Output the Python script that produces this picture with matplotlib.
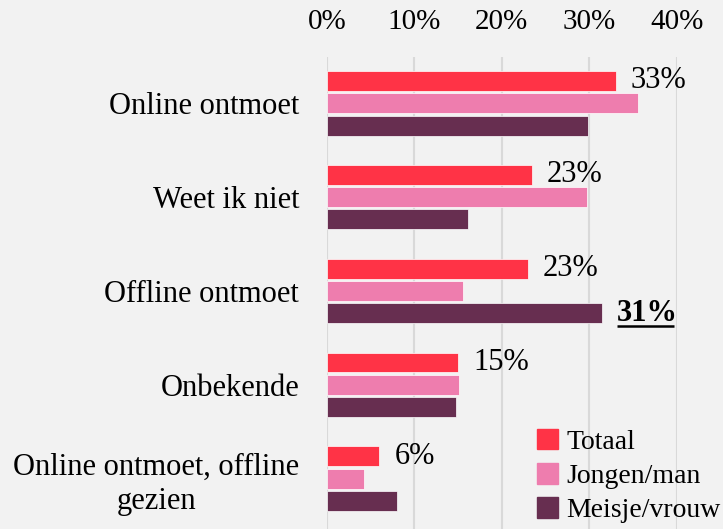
import numpy as np
import matplotlib
matplotlib.use('Agg')
import matplotlib.pyplot as plt
from matplotlib.ticker import PercentFormatter

categories = ['Online ontmoet', 'Weet ik niet', 'Offline ontmoet', 'Onbekende',
              'Online ontmoet, offline\ngezien']
series = ['Totaal', 'Jongen/man', 'Meisje/vrouw']
totaal = [0.33, 0.234, 0.23, 0.15, 0.06]
jongen = [0.356, 0.297, 0.155, 0.151, 0.042]
meisje = [0.298, 0.161, 0.315, 0.148, 0.080]
labels_totaal = ['33%', '23%', '23%', '15%', '6%']
highlight_label = '31%'   # Meisje/vrouw, Offline ontmoet
highlight_idx = 2

colors = ['#FF3346', '#EE7DAE', '#672E50']
bg = '#F2F2F2'
fs = 22

plt.rcParams['font.family'] = ['Liberation Serif', 'DejaVu Serif']

fig = plt.figure(figsize=(7.23, 5.29), dpi=100, facecolor=bg)
W, H = 723, 529
ax = fig.add_axes([327 / W, 0, (676.7 - 327) / W, (529 - 57) / H], facecolor=bg)

y = np.arange(len(categories))
h = 0.213
off = 0.238
for vals, c, k in zip([totaal, jongen, meisje], colors, [-1, 0, 1]):
    ax.barh(y + k * off, vals, height=h, color=c, zorder=3,
            edgecolor='white', linewidth=0.5)

for i, (v, s) in enumerate(zip(totaal, labels_totaal)):
    ax.text(v + 0.017, y[i] - off, s, va='center', ha='left', fontsize=fs,
            color='black', clip_on=False)
t = ax.text(meisje[highlight_idx] + 0.017, y[highlight_idx] + off, highlight_label,
            va='center', ha='left', fontsize=fs, fontweight='bold', color='black',
            clip_on=False)
# underline for the highlighted label
fig.canvas.draw()
bb = t.get_window_extent().transformed(ax.transData.inverted())
yline = max(bb.y0, bb.y1) - 0.02
ax.plot([bb.x0, bb.x1], [yline, yline], color='black', lw=1.8,
        clip_on=False, solid_capstyle='butt')

ax.set_xlim(0, 0.4)
ax.set_ylim(4.536, -0.493)
ax.set_xticks([0, 0.1, 0.2, 0.3, 0.4])
ax.xaxis.set_major_formatter(PercentFormatter(1.0, decimals=0))
ax.xaxis.tick_top()
ax.tick_params(axis='x', length=0, pad=16, labelsize=21)
ax.set_yticks(y)
ax.set_yticklabels(categories, fontsize=fs, multialignment='center')
ax.tick_params(axis='y', length=0, pad=20)
ax.grid(axis='x', color='#D9D9D9', linewidth=1.5, zorder=0)
for sp in ax.spines.values():
    sp.set_visible(False)

handles = [plt.Rectangle((0, 0), 1, 1, color=c) for c in colors]
fig.legend(handles, series, loc='upper left', bbox_to_anchor=(537 / W, 1 - 429 / H),
           frameon=False, fontsize=20, handlelength=0.75, handleheight=0.75,
           handletextpad=0.3, labelspacing=0.3, borderaxespad=0, borderpad=0)

fig.savefig('out.png', dpi=100, facecolor=bg)
